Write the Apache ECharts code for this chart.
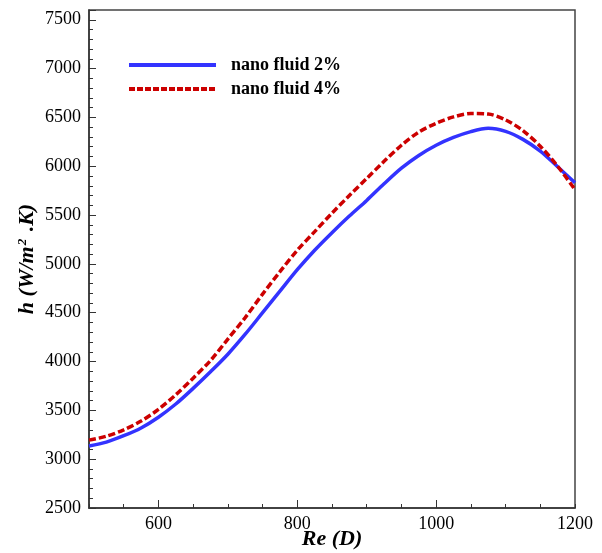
<!DOCTYPE html>
<html><head><meta charset="utf-8">
<script src="https://cdn.jsdelivr.net/npm/echarts@6/dist/echarts.min.js"></script>
<style>html,body{margin:0;padding:0;background:#fff}#c{width:602px;height:553px}</style>
</head><body><div id="c"></div>
<script>
// Reynolds number (x)
const reValues = [500,525,550,575,600,625,650,675,700,725,750,775,800,825,850,875,900,925,950,975,1000,1025,1050,1075,1100,1125,1150,1175,1200];
// h for nano fluid 2%
const h2 = [3135,3175,3240,3320,3430,3565,3725,3895,4075,4280,4500,4720,4940,5140,5320,5490,5650,5820,5980,6110,6215,6295,6355,6388,6357,6275,6155,5995,5830];
// h for nano fluid 4%
const h4 = [3195,3235,3300,3390,3510,3660,3830,4010,4230,4450,4690,4920,5140,5330,5520,5700,5875,6050,6215,6350,6440,6505,6540,6535,6475,6365,6205,6000,5760];
const xTickLabels = [600,800,1000,1200];
const xMajorTicks = [600,800,1000];
const yTickLabels = [2500,3000,3500,4000,4500,5000,5500,6000,6500,7000,7500];
const seriesNames = ['nano fluid 2%','nano fluid 4%'];

const serif = 'Liberation Serif';
const tickColor = '#333';
const chart = echarts.init(document.getElementById('c'), null, {renderer:'canvas'});

const pairs = ys => reValues.map((x,i)=>[x, ys[i]]);

// legend icons: solid bar and a row of dashes (87 x 4 units)
let dashPath = 'path://';
for (let i = 0; i < 11; i++) { const x0 = i * 8; dashPath += 'M' + x0 + ',0h6v4h-6z'; }
dashPath += 'M87,0h0v4h0z';
const solidPath = 'path://M0,0h87v4h-87z';

chart.setOption({
  backgroundColor:'#fff',
  animation:false,
  grid:{left:89, right:27, top:10, bottom:45, show:true, borderColor:'#444', borderWidth:1.5, backgroundColor:'transparent', outerBoundsMode:'none'},
  legend:{
    orient:'vertical', left:124, top:51, itemWidth:87, itemHeight:4, itemGap:6,
    symbolKeepAspect:false,
    data:[{name:seriesNames[0], icon:solidPath}, {name:seriesNames[1], icon:dashPath}],
    textStyle:{fontFamily:serif, fontWeight:'bold', fontSize:18, color:'#000', padding:[0,0,0,10]}
  },
  xAxis:[{
    type:'value', min:500, max:1200, interval:50,
    name:'Re (D)', nameLocation:'middle', nameGap:20, nameMoveOverlap:false,
    nameTextStyle:{fontFamily:serif, fontWeight:'bold', fontStyle:'italic', fontSize:22, color:'#000'},
    axisLine:{show:true, lineStyle:{color:tickColor, width:1.5}},
    axisTick:{show:true, inside:true, length:4, lineStyle:{color:tickColor, width:1}},
    axisLabel:{fontFamily:serif, fontSize:18, color:'#000', margin:7,
      formatter:v => xTickLabels.indexOf(v) >= 0 ? String(v) : ''},
    splitLine:{show:false}
  },{
    type:'value', min:500, max:1200, position:'bottom',
    axisLine:{show:false},
    axisTick:{show:true, inside:true, length:8, customValues:xMajorTicks, lineStyle:{color:tickColor, width:1}},
    axisLabel:{show:false},
    splitLine:{show:false}
  }],
  yAxis:[{
    type:'value', min:2500, max:7600, interval:500,
    name:'h (W/m{sup|2} .K)', nameLocation:'middle', nameGap:50, nameMoveOverlap:false,
    nameTextStyle:{fontFamily:serif, fontWeight:'bold', fontStyle:'italic', fontSize:22, color:'#000',
      rich:{sup:{fontFamily:serif, fontWeight:'bold', fontStyle:'italic', fontSize:13, color:'#000', verticalAlign:'top', padding:[0,2,10,1]}}},
    axisLine:{show:true, lineStyle:{color:tickColor, width:1.5}},
    axisTick:{show:true, inside:true, length:7, lineStyle:{color:tickColor, width:1}},
    axisLabel:{fontFamily:serif, fontSize:18, color:'#000', margin:8,
      formatter:v => yTickLabels.indexOf(v) >= 0 ? String(v) : ''},
    splitLine:{show:false}
  },{
    type:'value', min:2500, max:7600, interval:100, position:'left',
    axisLine:{show:false},
    axisTick:{show:true, inside:true, length:4, lineStyle:{color:tickColor, width:1}},
    axisLabel:{show:false},
    splitLine:{show:false}
  }],
  series:[{
    name:seriesNames[0], type:'line', xAxisIndex:0, yAxisIndex:0,
    data:pairs(h2), smooth:0.3, symbol:'none',
    lineStyle:{color:'#3333ff', width:3.5},
    itemStyle:{color:'#3333ff'}
  },{
    name:seriesNames[1], type:'line', xAxisIndex:0, yAxisIndex:0,
    data:pairs(h4), smooth:0.3, symbol:'none',
    lineStyle:{color:'#cc0000', width:3.5, type:[7,3]},
    itemStyle:{color:'#cc0000'}
  }]
});
</script></body></html>
